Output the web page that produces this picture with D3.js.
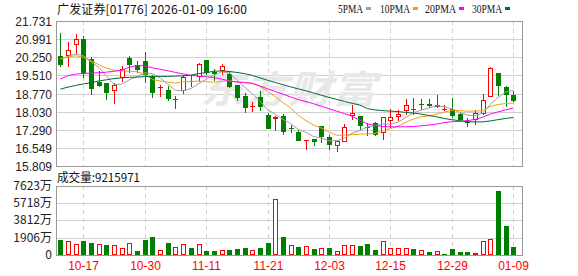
<!DOCTYPE html>
<html>
<head>
<meta charset="utf-8">
<script src="https://cdn.jsdelivr.net/npm/d3@7/dist/d3.min.js"></script>
<style>
body { margin: 0; background: #fff; }
svg { display: block; }
</style>
</head>
<body>
<svg id="chart" width="578" height="276"></svg>
<script>
// trading days shown (HK), oldest first
const dates = ["10-14","10-15","10-16","10-17","10-20","10-21","10-22","10-23","10-24","10-27",
  "10-28","10-30","10-31","11-03","11-04","11-05","11-06","11-07","11-10","11-11",
  "11-12","11-13","11-14","11-17","11-18","11-19","11-20","11-21","11-24","11-25",
  "11-26","11-27","11-28","12-01","12-02","12-03","12-04","12-05","12-08","12-09",
  "12-10","12-11","12-12","12-15","12-16","12-17","12-18","12-19","12-22","12-23",
  "12-24","12-29","12-30","12-31","01-02","01-05","01-06","01-07","01-08","01-09"];

const openP = [20.29,20.31,20.74,20.99,20.17,19.24,19.20,18.86,19.40,20.22,
  19.95,20.11,19.50,19.00,18.91,18.55,18.86,19.23,19.44,20.14,
  19.63,19.70,19.57,19.11,18.66,18.22,18.63,17.90,17.73,17.86,
  17.37,17.19,16.84,16.91,17.43,16.99,16.61,16.78,17.84,17.84,
  17.40,17.57,17.16,17.64,17.82,18.04,18.14,18.33,18.34,18.23,
  18.13,18.14,17.93,17.61,17.70,17.93,18.61,19.61,19.02,18.70];
const closeP = [19.95,20.55,20.99,19.58,18.97,19.09,18.80,19.13,19.78,19.95,
  19.74,19.54,18.80,19.02,18.55,18.56,19.43,19.27,19.97,19.61,
  19.58,19.88,19.02,18.59,18.18,18.24,18.21,17.32,17.81,17.20,
  17.35,16.84,16.86,16.79,16.98,16.65,16.84,17.39,17.97,17.46,
  17.38,17.09,17.80,17.80,17.93,18.29,18.15,18.30,18.27,18.31,
  18.14,17.86,17.69,17.57,17.96,18.49,19.81,19.06,18.72,18.48];
const highP = [21.24,20.87,21.21,21.12,20.26,19.68,19.21,19.20,19.88,20.31,
  20.11,20.45,19.54,19.11,19.09,18.67,19.54,19.54,20.02,20.14,
  19.77,19.97,19.70,19.13,18.79,18.42,18.86,17.97,17.84,17.93,
  17.50,17.29,16.86,16.92,17.46,17.06,16.88,17.52,18.31,17.84,
  17.57,17.60,17.80,18.14,18.08,18.56,18.59,18.55,18.56,18.72,
  18.31,18.59,17.97,17.77,18.11,18.75,19.84,19.61,19.06,18.88];
const lowP = [19.85,19.84,20.38,19.40,18.72,19.02,18.52,18.35,19.23,19.61,
  19.61,19.20,18.59,18.63,18.48,18.14,18.75,19.04,19.23,19.54,
  19.29,19.54,18.99,18.45,17.97,18.02,18.07,17.30,17.23,17.09,
  17.16,16.83,16.48,16.64,16.75,16.45,16.37,16.78,17.70,17.29,
  17.02,17.02,16.88,17.36,17.64,17.90,17.88,18.11,18.18,18.18,
  18.04,17.77,17.64,17.39,17.50,17.90,18.61,18.66,18.21,18.42];

// moving averages as drawn
const ma5 = [20.18,20.29,20.38,20.31,20.05,19.84,19.49,19.13,19.15,19.33,
  19.46,19.62,19.58,19.41,19.15,18.90,18.88,18.97,19.16,19.35,
  19.52,19.65,19.61,19.32,19.03,18.76,18.46,18.11,17.92,17.72,
  17.55,17.30,17.18,17.01,16.95,16.84,16.84,16.95,17.15,17.26,
  17.40,17.46,17.53,17.51,17.60,17.79,17.99,18.09,18.18,18.27,
  18.23,18.14,18.00,17.89,17.86,17.96,18.32,18.60,18.83,18.89];
const ma10 = [20.19,20.26,20.31,20.25,20.11,19.95,19.81,19.72,19.69,19.68,
  19.66,19.56,19.34,19.28,19.24,19.19,19.25,19.26,19.28,19.25,
  19.23,19.27,19.29,19.25,19.21,19.18,19.06,18.86,18.64,18.40,
  18.18,17.88,17.66,17.48,17.36,17.20,17.06,17.07,17.09,17.11,
  17.12,17.14,17.24,17.34,17.43,17.60,17.73,17.82,17.85,17.93,
  18.01,18.09,18.07,18.05,18.05,18.07,18.24,18.32,18.36,18.38];
const ma20 = [19.36,19.50,19.56,19.59,19.60,19.62,19.64,19.68,19.72,19.85,
  19.91,19.90,19.82,19.76,19.70,19.63,19.57,19.51,19.48,19.46,
  19.42,19.36,19.28,19.24,19.22,19.19,19.08,18.96,18.85,18.74,
  18.63,18.52,18.44,18.35,18.25,18.15,18.05,17.95,17.84,17.68,
  17.53,17.47,17.42,17.41,17.41,17.41,17.42,17.45,17.48,17.52,
  17.58,17.62,17.63,17.66,17.71,17.80,17.93,18.02,18.10,18.18];
const ma30 = [18.95,19.03,19.10,19.16,19.21,19.28,19.33,19.38,19.41,19.43,
  19.44,19.46,19.47,19.47,19.47,19.48,19.49,19.52,19.58,19.62,
  19.68,19.69,19.67,19.63,19.58,19.51,19.41,19.31,19.22,19.13,
  19.04,18.96,18.88,18.79,18.70,18.61,18.53,18.45,18.37,18.30,
  18.15,18.10,18.07,18.05,18.03,18.00,17.97,17.93,17.87,17.82,
  17.75,17.70,17.66,17.62,17.61,17.61,17.65,17.70,17.75,17.79];

// volume in 万 shares, and bar colour (u = red, d = green)
const volume = [1657,1547,1215,1547,1326,1215,1105,1105,737,1326,
  442,1657,1952,553,1326,847,1215,774,1215,442,
  442,553,553,663,774,553,774,1326,6155,1989,
  1105,884,958,663,774,774,442,1068,1068,995,
  1215,553,1547,737,737,737,663,516,368,442,
  110,663,368,368,221,1547,1731,7105,3205,921.6];
const volDir = ["d","u","u","d","d","u","d","u","u","u",
  "d","d","d","u","d","u","u","d","u","d",
  "d","u","d","d","d","u","d","d","u","d",
  "u","d","u","d","u","d","u","u","u","d",
  "d","d","u","u","u","u","d","u","d","u",
  "d","d","d","d","u","u","u","d","d","d"];

const priceTicks = [21.731,20.991,20.250,19.510,18.770,18.030,17.290,16.549,15.809];
const priceTickLabels = ["21.731","20.991","20.250","19.510","18.770","18.030","17.290","16.549","15.809"];
const volTicks = [0,1906,3812,5718,7623];
const volTickLabels = ["0","1906万","3812万","5718万","7623万"];
const dateTicks = ["10-17","10-30","11-11","11-21","12-03","12-15","12-29","01-09"];

const maNames = ["5PMA","10PMA","20PMA","30PMA"];
const maColors = ["#a0a0a0","#f0a30a","#ff00ff","#006b33"];

const titleText = "广发证券[01776] 2026-01-09 16:00";
const volTitle = "成交量:9215971";

const RED = "#ff0000", GREEN = "#008000";
const font = "'Liberation Sans', Arial, sans-serif";
const cjkFont = "'Noto Sans CJK SC', 'Liberation Sans', sans-serif";

const svg = d3.select("#chart");
const left = 56, right = 522;
const pTop = 21, pBot = 166;
const vTop = 186, vBot = 255;

const x = d3.scalePoint().domain(dates).range([60.3, 513.3]);
const y = d3.scaleLinear().domain([15.809, 21.731]).range([pBot, pTop]);
const yv = d3.scaleLinear().domain([0, 7623]).range([vBot, vTop]);
const px = d => Math.round(x(d));

// ---------- grids ----------
function grid(g, ticks, scale, top, bot) {
  g.selectAll(".hg").data(ticks.filter(t => scale(t) > top + 1 && scale(t) < bot - 1))
    .enter().append("line")
    .attr("x1", left).attr("x2", right)
    .attr("y1", t => Math.round(scale(t)) + 0.5).attr("y2", t => Math.round(scale(t)) + 0.5)
    .attr("stroke", "#cfcfcf").attr("shape-rendering", "crispEdges");
  g.selectAll(".vg").data(dateTicks).enter().append("line")
    .attr("x1", d => px(d) + 0.5).attr("x2", d => px(d) + 0.5)
    .attr("y1", top).attr("y2", bot)
    .attr("stroke", "#cfcfcf").attr("stroke-dasharray", "4,4")
    .attr("shape-rendering", "crispEdges");
}
grid(svg.append("g"), priceTicks, y, pTop, pBot);
grid(svg.append("g"), volTicks, yv, vTop, vBot);

// watermark
svg.append("text")
  .attr("x", 200).attr("y", 103)
  .attr("font-family", cjkFont).attr("font-size", 38).attr("font-weight", "bold")
  .attr("font-style", "italic")
  .attr("textLength", 176).attr("lengthAdjust", "spacingAndGlyphs")
  .attr("fill", "#e8e8e8")
  .text("东方财富");

// ---------- candles ----------
const candles = svg.append("g").attr("shape-rendering", "crispEdges");
dates.forEach(function (d, i) {
  const cx = px(d);
  const o = openP[i], c = closeP[i];
  const up = c >= o;
  const col = up ? RED : GREEN;
  const top = Math.round(y(Math.max(o, c)));
  const bot = Math.round(y(Math.min(o, c)));
  const hi = Math.round(y(highP[i]));
  const lo = Math.round(y(lowP[i]));
  if (up) {
    candles.append("line").attr("x1", cx + 0.5).attr("x2", cx + 0.5)
      .attr("y1", hi).attr("y2", top).attr("stroke", col);
    candles.append("line").attr("x1", cx + 0.5).attr("x2", cx + 0.5)
      .attr("y1", bot).attr("y2", lo).attr("stroke", col);
    if (bot - top < 2) {
      candles.append("rect").attr("x", cx - 2).attr("y", top).attr("width", 5).attr("height", 1)
        .attr("fill", col);
    } else {
      candles.append("rect").attr("x", cx - 1.5).attr("y", top + 0.5)
        .attr("width", 4).attr("height", bot - top - 1)
        .attr("fill", "#fff").attr("stroke", col);
    }
  } else {
    candles.append("line").attr("x1", cx + 0.5).attr("x2", cx + 0.5)
      .attr("y1", hi).attr("y2", lo).attr("stroke", col);
    candles.append("rect").attr("x", cx - 2).attr("y", top)
      .attr("width", 5).attr("height", Math.max(1, bot - top))
      .attr("fill", col);
  }
});

// ---------- moving averages ----------
const line = d3.line().x((v, i) => x(dates[i])).y(v => y(v));
[ma5, ma10, ma20, ma30].forEach(function (s, k) {
  svg.append("path").datum(s)
    .attr("d", line)
    .attr("fill", "none")
    .attr("stroke", maColors[k])
    .attr("stroke-width", 1);
});

// ---------- volume ----------
const vols = svg.append("g").attr("shape-rendering", "crispEdges");
dates.forEach(function (d, i) {
  const cx = px(d);
  const top = Math.round(yv(volume[i]));
  if (volDir[i] === "u") {
    if (vBot - top < 3) {
      vols.append("rect").attr("x", cx - 2).attr("y", top).attr("width", 5)
        .attr("height", vBot - top).attr("fill", RED);
    } else {
      vols.append("rect").attr("x", cx - 1.5).attr("y", top + 0.5)
        .attr("width", 4).attr("height", vBot - top - 1)
        .attr("fill", "#fff").attr("stroke", RED);
    }
  } else {
    vols.append("rect").attr("x", cx - 2).attr("y", top)
      .attr("width", 5).attr("height", vBot - top).attr("fill", GREEN);
  }
});

// ---------- frames ----------
[[pTop, pBot], [vTop, vBot]].forEach(function (p) {
  svg.append("rect").attr("x", left + 0.5).attr("y", p[0] + 0.5)
    .attr("width", right - left).attr("height", p[1] - p[0])
    .attr("fill", "none").attr("stroke", "#999").attr("shape-rendering", "crispEdges");
});

// ---------- axis labels ----------
svg.append("g").selectAll("text").data(priceTicks).enter().append("text")
  .attr("x", 52).attr("y", t => y(t) + 5)
  .attr("text-anchor", "end")
  .attr("font-family", font).attr("font-size", 12).attr("fill", "#222")
  .text((t, i) => priceTickLabels[i]);

svg.append("g").selectAll("text").data(volTicks).enter().append("text")
  .attr("x", 52).attr("y", t => yv(t) + 4)
  .attr("text-anchor", "end")
  .attr("font-family", cjkFont).attr("font-size", 12).attr("fill", "#222")
  .text((t, i) => volTickLabels[i]);

svg.append("g").selectAll("text").data(dateTicks).enter().append("text")
  .attr("x", d => px(d) + 0.5).attr("y", 270)
  .attr("text-anchor", "middle")
  .attr("font-family", font).attr("font-size", 12).attr("fill", RED)
  .text(d => d);

// titles
svg.append("text").attr("x", 57).attr("y", 14)
  .attr("font-family", cjkFont).attr("font-size", 12).attr("fill", "#111")
  .attr("textLength", 190).attr("lengthAdjust", "spacing")
  .text(titleText);
svg.append("text").attr("x", 57).attr("y", 182)
  .attr("font-family", cjkFont).attr("font-size", 12).attr("fill", "#111")
  .attr("textLength", 83).attr("lengthAdjust", "spacingAndGlyphs")
  .text(volTitle);

// legend
const legendX = [338, 380, 425, 472];
const legendW = [25, 30, 31, 30];
const legendBoxX = [366, 413, 459, 505];
maNames.forEach(function (n, k) {
  svg.append("text").attr("x", legendX[k]).attr("y", 13)
    .attr("font-family", "'Liberation Serif', serif").attr("font-size", 12).attr("fill", "#111")
    .attr("textLength", legendW[k]).attr("lengthAdjust", "spacingAndGlyphs")
    .text(n);
  svg.append("rect").attr("x", legendBoxX[k]).attr("y", 7).attr("width", 5).attr("height", 3)
    .attr("fill", maColors[k]);
});
</script>
</body>
</html>
